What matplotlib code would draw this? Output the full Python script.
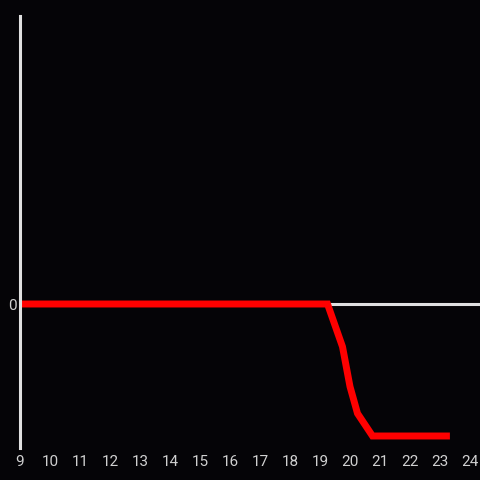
import matplotlib
matplotlib.use("Agg")
import matplotlib.pyplot as plt

hours = [9, 19.25, 19.75, 20.0, 20.25, 20.75, 23.33]
values = [0, 0, -4.45, -8.6, -11.4, -13.75, -13.75]
xticks = list(range(9, 25))
yticks = [0]

bg = "#050407"
fg = "#e0e0e0"

fig = plt.figure(figsize=(4.8, 4.8), dpi=100, facecolor=bg)
ax = fig.add_axes([20/480, 32/480, 460/480, 432/480], facecolor=bg)
ax.set_xlim(9, 9 + 460/30)
ax.set_ylim(-15, 30)

ax.axhline(0, color=fg, lw=2.2, zorder=1)
ax.plot(hours, values, color="#ff0000", lw=5, solid_joinstyle="miter",
        solid_capstyle="butt", zorder=2)

for s in ["top", "right", "bottom"]:
    ax.spines[s].set_visible(False)
ax.spines["left"].set_color(fg)
ax.spines["left"].set_linewidth(2.2)

ax.set_xticks(xticks)
ax.set_xticklabels([str(t) for t in xticks])
ax.set_yticks(yticks)
ax.set_yticklabels(["0"])
ax.tick_params(axis="both", length=0, colors="#d0d0d0", labelsize=11)
ax.tick_params(axis="x", pad=5)
ax.tick_params(axis="y", pad=2)
for lbl in ax.get_xticklabels() + ax.get_yticklabels():
    lbl.set_family("Roboto")

fig.savefig("out.png", dpi=100, facecolor=bg)
